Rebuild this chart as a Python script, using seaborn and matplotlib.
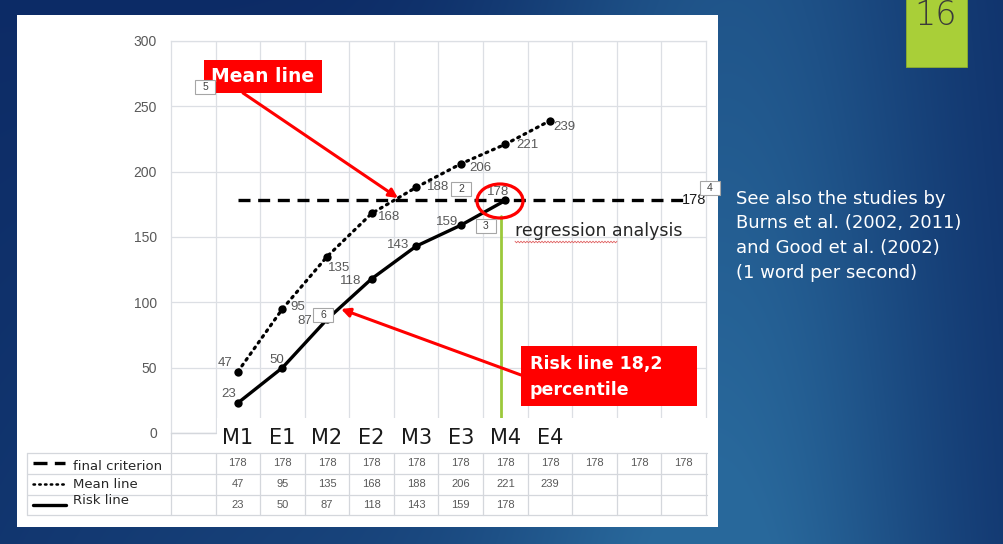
import numpy as np
import pandas as pd
import matplotlib
matplotlib.use("Agg")
import matplotlib.pyplot as plt
import matplotlib.patches as mpatches
import seaborn as sns

# ---- data ---------------------------------------------------------------
tick_labels = ["M1", "E1", "M2", "E2", "M3", "E3", "M4", "E4"]
series_names = ["final criterion", "Mean line", "Risk line"]
criterion = [178, 178, 178, 178, 178, 178, 178, 178, 178, 178, 178]
mean_line = [47, 95, 135, 168, 188, 206, 221, 239]
risk_line = [23, 50, 87, 118, 143, 159, 178]
y_ticks = [0, 50, 100, 150, 200, 250, 300]
n_slots = 12  # category slots on the x axis; slot 0 stays empty
note_lines = ["See also the studies by", "Burns et al. (2002, 2011)",
              "and Good et al. (2002)", "(1 word per second)"]
slide_number = "16"

frames = []
for name, vals in zip(series_names, [criterion, mean_line, risk_line]):
    frames.append(pd.DataFrame({"slot": np.arange(1, len(vals) + 1),
                                "value": vals, "series": name}))
df = pd.concat(frames, ignore_index=True)

# ---- figure geometry (pixels) -------------------------------------------
W, H = 1004, 544
PX_L, PX_R, PX_T, PX_B = 171, 706, 41, 433
slot_w = (PX_R - PX_L) / n_slots

sns.set_theme(style="white")
plt.rcParams["font.family"] = ["DejaVu Sans"]
fig = plt.figure(figsize=(W / 100, H / 100), dpi=100)

# background slide
bg = fig.add_axes([0, 0, 1, 1], zorder=0)
bg.set_xlim(0, W); bg.set_ylim(H, 0); bg.axis("off")
yy, xx = np.mgrid[0:H, 0:W]
t = (0.85 * np.exp(-((xx - 730) / 225.0) ** 2) * (0.8 + 0.2 * yy / H)
     + 0.35 * (yy / H) * np.exp(-((xx - 380) / 460.0) ** 2))
t = np.clip(t, 0, 1)[..., None]
dark = np.array([0.05, 0.17, 0.40])
light = np.array([0.16, 0.41, 0.61])
bg.imshow(dark * (1 - t) + light * t, extent=[0, W, H, 0], aspect="auto", zorder=0)
bg.add_patch(mpatches.Rectangle((17, 15), 701, 512, fc="white", ec="none", zorder=1))
bg.add_patch(mpatches.Rectangle((906, -2), 61, 69, fc="#a9cf38", ec="#8fae2c", lw=0.6, zorder=1))
bg.text(936, 25, slide_number, ha="center", va="baseline", fontsize=24,
        color="#3a3a3a", fontweight="light", zorder=2)

# ---- main chart -----------------------------------------------------------
ax = fig.add_axes([PX_L / W, 1 - PX_B / H, (PX_R - PX_L) / W, (PX_B - PX_T) / H], zorder=2)
ax.set_facecolor("white")
grid_c = "#dcdfe4"

crit_df = df[df.series == "final criterion"]
mean_df = df[df.series == "Mean line"]
risk_df = df[df.series == "Risk line"]
sns.lineplot(data=crit_df, x="slot", y="value", ax=ax, color="black", lw=2.4,
             linestyle=(0, (3.6, 2.3)), legend=False, zorder=4)
sns.lineplot(data=mean_df, x="slot", y="value", ax=ax, color="black", lw=2.3,
             linestyle=(0, (0.6, 1.6)), dash_capstyle="round", marker="o",
             markersize=6, markeredgewidth=0, legend=False, zorder=5)
sns.lineplot(data=risk_df, x="slot", y="value", ax=ax, color="black", lw=2.4,
             marker="o", markersize=6, markeredgewidth=0, legend=False, zorder=5)

ax.set_xlim(-0.5, n_slots - 0.5)
ax.set_ylim(0, 300)
ax.set_xticks(np.arange(0.5, n_slots - 0.5, 1))
ax.set_xticklabels([])
ax.set_yticks(y_ticks)
ax.set_yticklabels([str(v) for v in y_ticks], color="#595959", fontsize=10,
                   family="Liberation Sans")
ax.tick_params(length=0, pad=10)
ax.grid(True, color=grid_c, lw=0.9)
for s in ax.spines.values():
    s.set_color(grid_c); s.set_linewidth(0.9)
ax.set_xlabel(""); ax.set_ylabel("")

lab_kw = dict(textcoords="offset pixels", ha="center", va="center",
              fontsize=9.5, color="#595959", family="Liberation Sans", zorder=6)
mean_off = [(-13, 9), (15, 2), (12, -11), (17, -4), (22, 0), (20, -4), (22, -1), (14, -6)]
risk_off = [(-9, 9), (-6, 8), (-22, -2), (-21, -2), (-18, 1), (-14, 3), (-7, 8)]
for i, v in enumerate(mean_line):
    ax.annotate(str(v), (i + 1, v), xytext=mean_off[i], **lab_kw)
for i, v in enumerate(risk_line):
    ax.annotate(str(v), (i + 1, v), xytext=risk_off[i], **lab_kw)
ax.annotate(str(criterion[-1]), (len(criterion), criterion[-1]), xytext=(10, 0),
            textcoords="offset pixels", ha="center", va="center", fontsize=10.5,
            color="#1a1a1a", family="Liberation Sans", zorder=6)

# ---- overlay: category labels, table, callouts ----------------------------
ov = fig.add_axes([0, 0, 1, 1], zorder=3)
ov.set_xlim(0, W); ov.set_ylim(H, 0); ov.axis("off")
ov.patch.set_alpha(0)
red = "#ff0000"

# green marker of the last risk point, under the label strip
ov.plot([501, 501], [216, 418], color="#9cc93b", lw=2.0, zorder=1)
ov.add_patch(mpatches.Rectangle((PX_L + slot_w + 1, 418), PX_R - PX_L - slot_w + 8, 34,
                                fc="white", ec="none", zorder=2))
for i, lab in enumerate(tick_labels):
    xc = PX_L + slot_w * (i + 1.5)
    ov.text(xc, 438, lab, ha="center", va="center", fontsize=15, color="#1a1a1a",
            family="DejaVu Sans", zorder=3)

# data table
row_y = [453, 474, 494.5, 515]
tbl_left = 27
tbl_right = PX_R + 1
line_c = "#d4d7dc"
for y in row_y:
    ov.plot([tbl_left, tbl_right], [y, y], color=line_c, lw=0.9, zorder=3)
ov.plot([tbl_left, tbl_left], [row_y[0], row_y[-1]], color=line_c, lw=0.9, zorder=3)
ov.plot([PX_L, PX_L], [PX_B, row_y[-1]], color=line_c, lw=0.9, zorder=3)
ov.plot([PX_L, PX_L + slot_w], [PX_B, PX_B], color=line_c, lw=0.9, zorder=3)
for k in range(1, n_slots + 1):
    xk = PX_L + slot_w * k
    ov.plot([xk, xk], [row_y[0], row_y[-1]], color=line_c, lw=0.9, zorder=3)
for r, vals in enumerate([criterion, mean_line, risk_line]):
    yc = (row_y[r] + row_y[r + 1]) / 2
    for i, v in enumerate(vals):
        xc = PX_L + slot_w * (i + 1.5)
        ov.text(xc, yc, str(v), ha="center", va="center", fontsize=8,
                color="#595959", family="Liberation Sans", zorder=4)

# legend column
leg_y = [466, 484, 501]
ov.plot([33, 65], [463, 463], color="black", lw=2.4, linestyle=(0, (4.2, 2.2)), zorder=4)
ov.plot([33, 64], [484, 484], color="black", lw=1.8, linestyle=(0, (0.6, 1.7)),
        dash_capstyle="round", zorder=4)
ov.plot([33, 66], [505, 505], color="black", lw=2.4, zorder=4)
for name, y in zip(series_names, leg_y):
    ov.text(73, y, name, ha="left", va="center", fontsize=9.5, color="#262626",
            family="DejaVu Sans", zorder=4)

# callouts
ov.annotate("", xy=(398, 198), xytext=(243, 93),
            arrowprops=dict(arrowstyle="-|>", color=red, lw=2.2, mutation_scale=13,
                            shrinkA=0, shrinkB=0), zorder=6)
ov.annotate("", xy=(341, 309), xytext=(521, 375),
            arrowprops=dict(arrowstyle="-|>", color=red, lw=2.2, mutation_scale=13,
                            shrinkA=0, shrinkB=0), zorder=6)
ov.add_patch(mpatches.Rectangle((204, 60), 118, 33, fc=red, ec="none", zorder=7))
ov.text(263, 77, "Mean line", ha="center", va="center", fontsize=13.5,
        fontweight="bold", color="white", zorder=8)
ov.add_patch(mpatches.Rectangle((521, 346), 176, 60, fc=red, ec="none", zorder=7))
ov.text(530, 364, "Risk line 18,2", ha="left", va="center", fontsize=12.5,
        fontweight="bold", color="white", zorder=8)
ov.text(530, 390, "percentile", ha="left", va="center", fontsize=12.5,
        fontweight="bold", color="white", zorder=8)
ov.add_patch(mpatches.Ellipse((500, 201), 46, 34, fill=False, ec=red, lw=2.3, zorder=6))

# regression note with a spell-check squiggle
ov.text(515, 231, "regression analysis", ha="left", va="center", fontsize=12.5,
        color="#262626", zorder=6)
sq_x = np.arange(515, 618, 1.5)
sq_y = 242 + 0.8 * np.where(np.arange(len(sq_x)) % 2 == 0, -1, 1)
ov.plot(sq_x, sq_y, color="#e06060", lw=0.6, zorder=6)

# small numbered shape tags
for txt, (cx, cy) in [("5", (205, 87)), ("2", (461, 189)), ("3", (486, 226)),
                      ("4", (710, 188)), ("6", (323, 315))]:
    ov.add_patch(mpatches.Rectangle((cx - 10, cy - 7), 20, 14, fc="white",
                                    ec="#a6a6a6", lw=0.8, zorder=9))
    ov.text(cx, cy, txt, ha="center", va="center", fontsize=7.5, color="#404040",
            family="Liberation Sans", zorder=10)

# side note on the slide
for j, line in enumerate(note_lines):
    ov.text(736, 199 + j * 24.5, line, ha="left", va="center", fontsize=13,
            color="white", zorder=6)

fig.savefig("out.png", dpi=100)
